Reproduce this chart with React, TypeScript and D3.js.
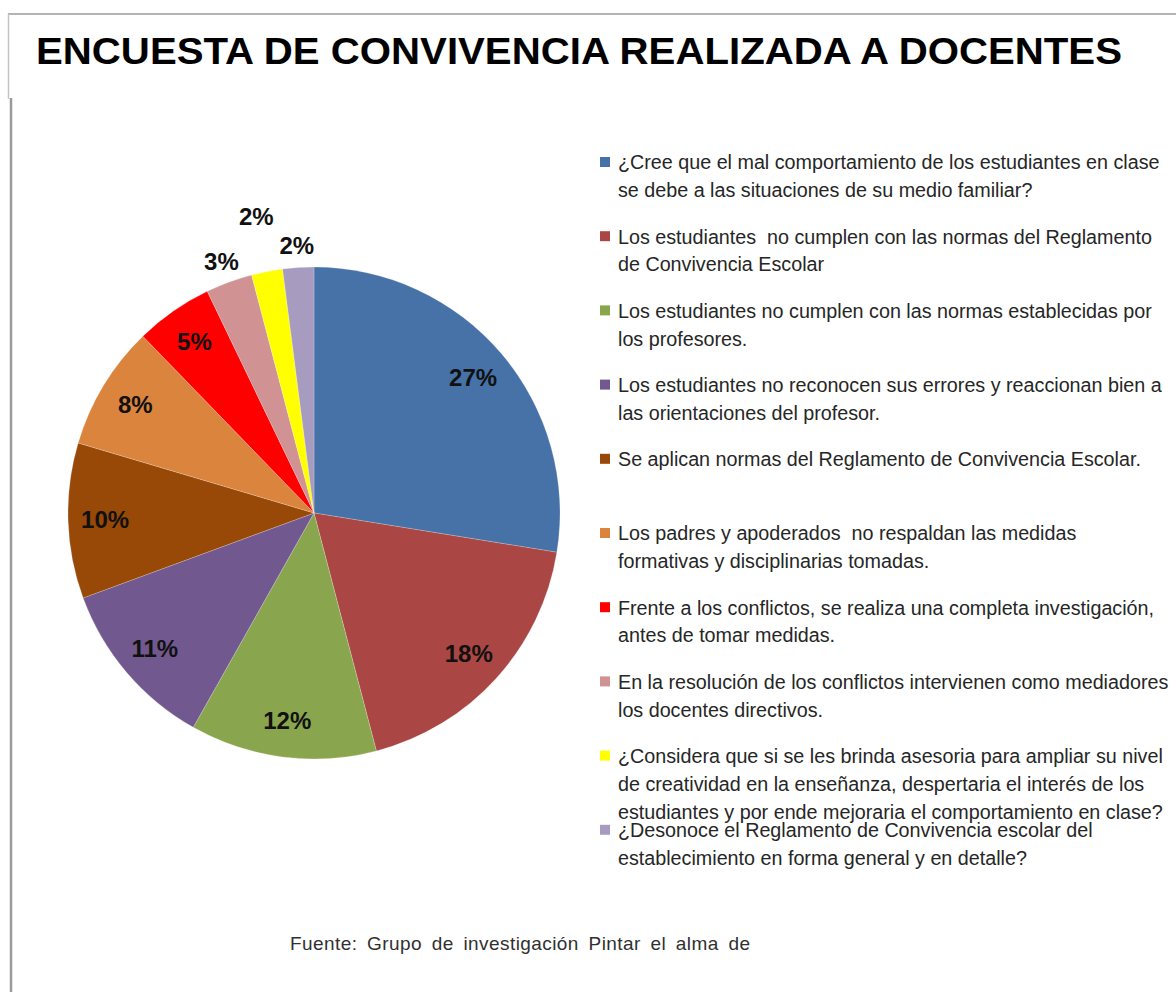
import React from "react";
import * as d3 from "d3";

const TITLE = "ENCUESTA DE CONVIVENCIA REALIZADA A DOCENTES";
const FOOTER = "Fuente: Grupo de investigación Pintar el alma de";

const values = [27, 18, 12, 11, 10, 8, 5, 3, 2, 2];
const colors = [
  "#4672A8",
  "#AA4643",
  "#89A54E",
  "#71588F",
  "#984807",
  "#DB843D",
  "#FF0000",
  "#D09292",
  "#FFFF00",
  "#A89BC0",
];
const legendLines: string[][] = [
  ["¿Cree que el mal comportamiento de los estudiantes en clase", "se debe a las situaciones de su medio familiar?"],
  ["Los estudiantes  no cumplen con las normas del Reglamento", "de Convivencia Escolar"],
  ["Los estudiantes no cumplen con las normas establecidas por", "los profesores."],
  ["Los estudiantes no reconocen sus errores y reaccionan bien a", "las orientaciones del profesor."],
  ["Se aplican normas del Reglamento de Convivencia Escolar."],
  ["Los padres y apoderados  no respaldan las medidas", "formativas y disciplinarias tomadas."],
  ["Frente a los conflictos, se realiza una completa investigación,", "antes de tomar medidas."],
  ["En la resolución de los conflictos intervienen como mediadores", "los docentes directivos."],
  [
    "¿Considera que si se les brinda asesoria para ampliar su nivel",
    "de creatividad en la enseñanza, despertaria el interés de los",
    "estudiantes y por ende mejoraria el comportamiento en clase?",
  ],
  ["¿Desonoce el Reglamento de Convivencia escolar del", "establecimiento en forma general y en detalle?"],
];

const W = 1176;
const H = 992;
const CX = 314;
const CY = 513;
const R = 246;
const INSIDE_R = 209;
const OUTSIDE_R = 268;
const OUTSIDE_R2 = 302;
const LEGEND_X = 600;
const LEGEND_Y0 = 162;
const LEGEND_STEP = 74.2;
const LINE_H = 27.8;

export default function App() {
  const pie = d3.pie<number>().sort(null).value((d) => d).startAngle(0).endAngle(2 * Math.PI);
  const arcs = pie(values);
  const arc = d3.arc<d3.PieArcDatum<number>>().innerRadius(0).outerRadius(R);
  let outsideCount = 0;
  const labels = arcs.map((a) => {
    let lr = INSIDE_R;
    if (a.data < 5) {
      lr = outsideCount % 2 === 1 ? OUTSIDE_R2 : OUTSIDE_R;
      outsideCount++;
    }
    const la = d3.arc<d3.PieArcDatum<number>>().innerRadius(lr).outerRadius(lr);
    const [x, y] = la.centroid(a);
    return { x, y, text: `${a.data}%` };
  });

  return (
    <svg
      width={W}
      height={H}
      style={{ position: "absolute", left: 0, top: 0, background: "#fff" }}
      fontFamily="'Liberation Sans', Arial, sans-serif"
    >
      <rect x={0} y={0} width={W} height={H} fill="#fff" />
      {/* frame */}
      <line x1={8} y1={14} x2={W} y2={14} stroke="#b4b4b4" strokeWidth={2} />
      <line x1={8.5} y1={14} x2={8.5} y2={99} stroke="#c4c4c4" strokeWidth={1.5} />
      <line x1={11} y1={98} x2={11} y2={H} stroke="#9a9a9a" strokeWidth={2.5} />

      <text
        x={36}
        y={64}
        fontSize={36}
        fontWeight="bold"
        fill="#000"
        textLength={1086}
        lengthAdjust="spacingAndGlyphs"
      >
        {TITLE}
      </text>

      <g transform={`translate(${CX},${CY})`}>
        {arcs.map((a, i) => (
          <path key={i} d={arc(a) || ""} fill={colors[i]} stroke="#ffffff" strokeOpacity={0.35} strokeWidth={0.6} />
        ))}
        {labels.map((l, i) => (
          <text
            key={i}
            x={l.x}
            y={l.y}
            fontSize={24}
            fontWeight="bold"
            fill="#111"
            textAnchor="middle"
            dominantBaseline="central"
          >
            {l.text}
          </text>
        ))}
      </g>

      {legendLines.map((lines, i) => {
        const y0 = LEGEND_Y0 + i * LEGEND_STEP;
        return (
          <g key={i}>
            <rect x={LEGEND_X} y={y0 - 5} width={10} height={10} fill={colors[i]} />
            <g transform={`translate(618,0) scale(0.94,1)`}>
              {lines.map((t, j) => (
                <text
                  key={j}
                  x={0}
                  y={y0 + j * LINE_H + 7.5}
                  fontSize={21}
                  fill="#262626"
                  style={{ whiteSpace: "pre" }}
                >
                  {t}
                </text>
              ))}
            </g>
          </g>
        );
      })}

      <text
        x={290}
        y={950}
        fontSize={19}
        fill="#303030"
        wordSpacing={4}
        textLength={460}
        lengthAdjust="spacing"
        style={{ whiteSpace: "pre" }}
      >
        {FOOTER}
      </text>
    </svg>
  );
}
